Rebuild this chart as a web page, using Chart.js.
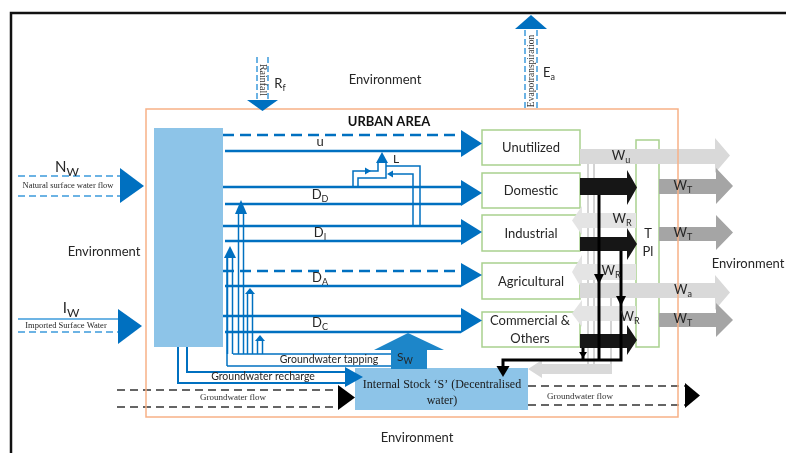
<!DOCTYPE html>
<html>
<head>
<meta charset="utf-8">
<script src="https://cdn.jsdelivr.net/npm/chart.js@4.4.1/dist/chart.umd.min.js"></script>
<style>
  html, body { margin: 0; padding: 0; background: #fff; }
  #wrap { width: 786px; height: 453px; }
</style>
</head>
<body>
<div id="wrap"><canvas id="c" width="786" height="453"></canvas></div>
<script>
// ── Diagram content ──────────────────────────────────────────────────────────
const sectors        = ['Unutilized', 'Domestic', 'Industrial', 'Agricultural', 'Commercial &|Others']
const demandMain     = ['u', 'D', 'D', 'D', 'D']
const demandSub      = ['', 'D', 'I', 'A', 'C']
const demandDashed   = [true, false, false, true, false]   // upper line of each pair
const inflowNames    = ['Natural surface water flow', 'Imported Surface Water']
const inflowMain     = ['N', 'I']
const inflowSub      = ['W', 'W']
const outflowMain    = ['W', 'W', 'W', 'W', 'W']
const outflowSub     = ['u', 'T', 'T', 'a', 'T']
const reuseMain      = ['W', 'W', 'W']
const reuseSub       = ['R', 'R', 'R']
const envLabels      = ['Environment', 'Environment', 'Environment', 'Environment']
const groundLabels   = ['Groundwater tapping', 'Groundwater recharge', 'Groundwater flow', 'Groundwater flow']
const stockLabel     = ['Internal Stock \u2018S\u2019 (Decentralised', 'water)']
const plantLabel     = ['T', 'Pl']

// ── Layout (diagram units = canvas px, y grows down) ─────────────────────────
const sectorX    = [482, 580]
const sectorY    = [[130, 165], [173, 208], [215, 251], [263, 299], [312, 347]]
const demandY    = [[135, 151], [187, 204], [226, 241], [271, 286], [316, 332]]
const demandHead = [[130, 157], [180, 206], [219, 245], [263, 287], [308, 333]]
const outflowLay = [
  { x0: 580, body: [149, 164], head: [138, 173], hx: 715, tip: 730, lx: 621, ly: 157 },
  { x0: 659, body: [179, 194], head: [168, 204], hx: 716, tip: 733, lx: 683, ly: 187 },
  { x0: 659, body: [227, 241], head: [215, 250], hx: 716, tip: 733, lx: 683, ly: 234 },
  { x0: 580, body: [283, 298], head: [275, 310], hx: 715, tip: 730, lx: 683, ly: 291 },
  { x0: 659, body: [313, 327], head: [303, 337], hx: 716, tip: 733, lx: 683, ly: 320 },
]
const wasteLay = [
  { body: [178, 195], head: [170, 205] },
  { body: [237, 251], head: [228, 260] },
  { body: [334, 348], head: [325, 355] },
]
const reuseLay = [
  { body: [213, 228], head: [206, 235], lx: 622, ly: 220 },
  { body: [264, 280], head: [255, 289], lx: 611, ly: 272 },
  { body: [306, 321], head: [300, 327], lx: 630, ly: 318 },
]
const tapArrows = [
  { x: 241, tip: 200, w: 12, h: 14 },
  { x: 230, tip: 246, w: 12, h: 12 },
  { x: 250, tip: 288, w: 10, h: 6 },
  { x: 260, tip: 335, w: 10, h: 6 },
]

const BLUE      = '#0070c0'
const LBLUE     = '#3c9bdb'
const BOXBLUE   = '#8dc4e8'
const SWBLUE    = '#1d86c9'
const GREEN     = '#a9d18e'
const ORANGE    = '#f7b187'
const GREY_L    = '#d9d9d9'
const GREY_R    = '#e4e4e4'
const GREY_M    = '#a5a5a5'
const BLACK     = '#161616'
const TEXT      = '#262626'
const SANS      = 'Lato, "Open Sans", sans-serif'
const SERIF     = '"Liberation Serif", "DejaVu Serif", serif'

// ── Line datasets (drawn by Chart.js) ────────────────────────────────────────
const datasets = []
function addLine(points, { color = BLUE, width = 2.5, dash = [] } = {}) {
  datasets.push({
    data: points.map(([x, y]) => ({ x, y })),
    showLine: true,
    borderColor: color,
    borderWidth: width,
    borderDash: dash,
    borderCapStyle: 'butt',
    pointRadius: 0,
    tension: 0,
    fill: false,
  })
}

// demand lines source -> sectors
demandY.forEach(([top, bot], i) => {
  addLine([[223, top], [461, top]], { dash: demandDashed[i] ? [11, 6] : [] })
  addLine([[225, bot], [461, bot]])
})

// inflows from outside
addLine([[18, 176], [120, 176]], { color: LBLUE, width: 1.5, dash: [7, 4] })
addLine([[18, 196], [120, 196]], { color: LBLUE, width: 1.5, dash: [7, 4] })
addLine([[18, 319], [118, 319]], { color: LBLUE, width: 1.5 })
addLine([[18, 332], [118, 332]], { color: LBLUE, width: 1.5, dash: [7, 4] })

// rainfall / evapotranspiration
addLine([[257, 57], [257, 100]], { color: LBLUE, width: 1.5, dash: [6, 3] })
addLine([[268, 57], [268, 100]], { color: LBLUE, width: 1.5, dash: [6, 3] })
addLine([[525, 30], [525, 109]], { color: LBLUE, width: 1.5, dash: [6, 3] })
addLine([[537, 30], [537, 109]], { color: LBLUE, width: 1.5, dash: [6, 3] })

// groundwater tapping
tapArrows.forEach(a => {
  addLine([[a.x - 2.5, 354], [a.x - 2.5, a.tip + a.h]], { width: 1.5 })
  addLine([[a.x + 2.5, 354], [a.x + 2.5, a.tip + a.h]], { width: 1.5 })
})
addLine([[227, 366], [227, 258]], { width: 1.5 })
addLine([[233, 354], [391, 354]], { width: 1.5 })
addLine([[227, 366], [391, 366]], { width: 1.5 })

// groundwater recharge
addLine([[178, 347], [178, 383], [345, 383]], { width: 2 })
addLine([[187, 347], [187, 372], [345, 372]], { width: 2 })

// groundwater flow (in and out)
addLine([[117, 390], [338, 390]], { color: '#333', width: 1.5, dash: [8, 5] })
addLine([[117, 407], [338, 407]], { color: '#333', width: 1.5, dash: [8, 5] })
addLine([[528, 386], [685, 386]], { color: '#333', width: 1.5, dash: [8, 5] })
addLine([[528, 405], [685, 405]], { color: '#333', width: 1.5, dash: [8, 5] })

// losses L
addLine([[353, 187], [353, 171], [378, 171], [378, 163]], { width: 1.5 })
addLine([[358, 187], [358, 178], [386, 178], [386, 163]], { width: 1.5 })
addLine([[420, 226], [420, 166], [386, 166]], { width: 1.5 })
addLine([[413, 226], [413, 174], [392, 174]], { width: 1.5 })

// light grey verticals between sectors and TPI
addLine([[588, 164], [588, 368]], { color: '#d4d4d4', width: 2 })
addLine([[594, 164], [594, 368]], { color: '#d4d4d4', width: 2 })
addLine([[611, 298], [611, 368]], { color: '#d4d4d4', width: 2 })

// ── Custom drawing plugin ────────────────────────────────────────────────────
function tools(chart) {
  const { ctx, scales: { x, y } } = chart
  const X = v => x.getPixelForValue(v)
  const Y = v => y.getPixelForValue(v)
  return {
    ctx, X, Y,
    rect(x0, y0, x1, y1, fill, stroke, lw = 1.5) {
      ctx.save()
      if (fill) { ctx.fillStyle = fill; ctx.fillRect(X(x0), Y(y0), X(x1) - X(x0), Y(y1) - Y(y0)) }
      if (stroke) { ctx.strokeStyle = stroke; ctx.lineWidth = lw; ctx.strokeRect(X(x0), Y(y0), X(x1) - X(x0), Y(y1) - Y(y0)) }
      ctx.restore()
    },
    poly(pts, fill) {
      ctx.save()
      ctx.beginPath()
      pts.forEach(([px, py], i) => i ? ctx.lineTo(X(px), Y(py)) : ctx.moveTo(X(px), Y(py)))
      ctx.closePath()
      ctx.fillStyle = fill
      ctx.fill()
      ctx.restore()
    },
    text(str, cx, cy, font, color = TEXT, rot = 0) {
      ctx.save()
      ctx.translate(X(cx), Y(cy))
      ctx.rotate(rot)
      ctx.font = font
      ctx.fillStyle = color
      ctx.textAlign = 'center'
      ctx.textBaseline = 'middle'
      ctx.fillText(str, 0, 0)
      ctx.restore()
    },
    sub(main, sub, cx, cy, size = 13, subSize = 9, color = TEXT) {
      ctx.save()
      ctx.font = `${size}px ${SANS}`
      const mw = ctx.measureText(main).width
      ctx.font = `${subSize}px ${SANS}`
      const sw = ctx.measureText(sub).width
      const left = X(cx) - (mw + sw) / 2
      ctx.fillStyle = color
      ctx.textAlign = 'left'
      ctx.textBaseline = 'middle'
      ctx.font = `${size}px ${SANS}`
      ctx.fillText(main, left, Y(cy))
      ctx.font = `${subSize}px ${SANS}`
      ctx.fillText(sub, left + mw, Y(cy) + size * 0.35)
      ctx.restore()
    },
  }
}

function blockArrow(t, x0, body, head, hx, tip, fill) {
  const mid = (head[0] + head[1]) / 2
  t.poly([[x0, body[0]], [hx, body[0]], [hx, head[0]], [tip, mid], [hx, head[1]], [hx, body[1]], [x0, body[1]]], fill)
}
function downHead(t, cx, tipY, w, h, fill) {
  t.poly([[cx - w / 2, tipY - h], [cx + w / 2, tipY - h], [cx, tipY]], fill)
}
function upHead(t, cx, tipY, w, h, fill) {
  t.poly([[cx - w / 2, tipY + h], [cx + w / 2, tipY + h], [cx, tipY]], fill)
}

const diagram = {
  id: 'diagram',
  beforeDatasetsDraw(chart) {
    const t = tools(chart)
    // outer frame
    t.rect(11, 13, 800, 470, null, '#111', 2.5)
    // source reservoir and internal stock
    t.rect(154, 128, 223, 347, BOXBLUE)
    t.rect(355, 368, 528, 410, BOXBLUE)
    // sector boxes
    sectorY.forEach(([y0, y1]) => t.rect(sectorX[0], y0, sectorX[1], y1, '#fff', GREEN, 1.5))
    // treatment plant box
    t.rect(636, 140, 659, 347, '#fff', GREEN, 1.5)
  },
  afterDatasetsDraw(chart) {
    const t = tools(chart)

    // reuse W_R arrows (pointing back to the sectors)
    reuseLay.forEach(r => blockArrow(t, 636, r.body, r.head, 582, 572, GREY_R))
    blockArrow(t, 612, [364, 374], [360, 378], 542, 528, GREY_L)

    // light outflows crossing the plant
    ;[0, 3].forEach(i => {
      const o = outflowLay[i]
      blockArrow(t, o.x0, o.body, o.head, o.hx, o.tip, GREY_L)
    })

    // black waste arrows into the plant
    wasteLay.forEach(w => blockArrow(t, 580, w.body, w.head, 627, 637, BLACK))

    // black collection lines to internal stock
    const ctx = t.ctx
    ctx.save()
    ctx.strokeStyle = '#000'
    ctx.lineWidth = 3
    ctx.beginPath()
    ctx.moveTo(t.X(599), t.Y(195)); ctx.lineTo(t.X(599), t.Y(360))
    ctx.moveTo(t.X(621), t.Y(251)); ctx.lineTo(t.X(621), t.Y(360))
    ctx.moveTo(t.X(622.5), t.Y(360)); ctx.lineTo(t.X(503), t.Y(360)); ctx.lineTo(t.X(503), t.Y(368))
    ctx.moveTo(t.X(583), t.Y(348)); ctx.lineTo(t.X(583), t.Y(360))
    ctx.stroke()
    ctx.restore()
    downHead(t, 599, 284, 10, 10, '#000')
    downHead(t, 621, 306, 10, 10, '#000')
    downHead(t, 503, 377, 13, 11, '#000')
    downHead(t, 583, 358, 8, 6, '#000')

    // treated outflows
    ;[1, 2, 4].forEach(i => {
      const o = outflowLay[i]
      blockArrow(t, o.x0, o.body, o.head, o.hx, o.tip, GREY_M)
    })

    // urban area boundary
    t.rect(146, 109, 678, 417, null, ORANGE, 1.5)

    // demand arrowheads
    demandHead.forEach(([h0, h1]) => t.poly([[461, h0], [482, (h0 + h1) / 2], [461, h1]], BLUE))

    // tapping arrowheads
    tapArrows.forEach(a => upHead(t, a.x, a.tip, a.w, a.h, BLUE))

    // losses arrowheads
    upHead(t, 382, 152, 12, 11, BLUE)
    t.poly([[365, 167.5], [371, 171], [365, 174.5]], BLUE)
    t.poly([[393, 170.5], [387, 174], [393, 177.5]], BLUE)

    // stock water arrow S_W
    t.poly([[391, 369], [391, 350], [374, 350], [408, 333], [444, 350], [427, 350], [427, 369]], SWBLUE)

    // recharge arrowhead
    t.poly([[345, 367], [363, 377], [345, 387]], BLUE)

    // groundwater flow heads
    t.poly([[338, 385], [355, 397.5], [338, 410]], '#000')
    t.poly([[685, 383], [700, 395.5], [685, 408]], '#000')

    // inflow heads
    t.poly([[120, 168], [144, 186], [120, 203]], BLUE)
    t.poly([[118, 309], [142, 326], [118, 344]], BLUE)

    // rainfall and evapotranspiration heads
    t.poly([[247, 100], [278, 100], [262.5, 111]], BLUE)
    t.poly([[515, 29], [547, 29], [531, 15]], BLUE)

    // ── text ──
    const env = `13px ${SANS}`
    t.text(envLabels[0], 385, 80, env)
    t.text(envLabels[1], 104, 252, env)
    t.text(envLabels[2], 748, 264, env)
    t.text(envLabels[3], 417, 438, env)
    t.text('URBAN AREA', 389, 122, `bold 13px ${SANS}`, '#111')

    sectors.forEach((s, i) => {
      const [y0, y1] = sectorY[i]
      const parts = s.split('|')
      const cy = (y0 + y1) / 2
      if (parts.length === 1) t.text(parts[0], 531, cy + 0.5, `13px ${SANS}`)
      else {
        t.text(parts[0], 530, cy - 8.5, `13px ${SANS}`)
        t.text(parts[1], 530, cy + 9, `13px ${SANS}`)
      }
    })

    demandY.forEach(([a, b], i) => t.sub(demandMain[i], demandSub[i], 320, (a + b) / 2 - 1, 13, 9))

    t.text(plantLabel[0], 648, 234, `13px ${SANS}`)
    t.text(plantLabel[1], 648, 252, `13px ${SANS}`)

    outflowLay.forEach((o, i) => t.sub(outflowMain[i], outflowSub[i], o.lx, o.ly - 1, 13, 9))
    reuseLay.forEach((r, i) => t.sub(reuseMain[i], reuseSub[i], r.lx, r.ly - 1, 13, 9))

    t.sub(inflowMain[0], inflowSub[0], 67, 167, 15, 12)
    t.text(inflowNames[0], 68, 186, `8.5px ${SERIF}`)
    t.sub(inflowMain[1], inflowSub[1], 71, 308, 15, 12)
    t.text(inflowNames[1], 66, 326, `8.5px ${SERIF}`)

    t.text('Rainfall', 262.5, 80, `10px ${SERIF}`, '#333', Math.PI / 2)
    t.sub('R', 'f', 280, 84, 13, 9)
    t.text('Evapotranspiration', 531, 71, `9.5px ${SERIF}`, '#333', -Math.PI / 2)
    t.sub('E', 'a', 549, 73, 13, 9)

    t.sub('L', '', 396, 159, 12, 9)
    t.sub('S', 'W', 405, 357, 12, 9)

    t.text(groundLabels[0], 329, 360, `10.5px ${SANS}`)
    t.text(groundLabels[1], 263, 377, `10.5px ${SANS}`)
    t.text(groundLabels[2], 233, 398, `9px ${SERIF}`, '#333')
    t.text(groundLabels[3], 580, 397, `9px ${SERIF}`, '#333')

    t.text(stockLabel[0], 442, 385, `12px ${SERIF}`, '#1a1a1a')
    t.text(stockLabel[1], 442, 401, `12px ${SERIF}`, '#1a1a1a')
  },
}

new Chart(document.getElementById('c'), {
  type: 'scatter',
  data: { datasets },
  plugins: [diagram],
  options: {
    responsive: false,
    animation: false,
    events: [],
    layout: { padding: 0 },
    plugins: { legend: { display: false }, tooltip: { enabled: false } },
    scales: {
      x: { type: 'linear', min: 0, max: 786, display: false },
      y: { type: 'linear', min: 0, max: 453, reverse: true, display: false },
    },
  },
})
</script>
</body>
</html>
